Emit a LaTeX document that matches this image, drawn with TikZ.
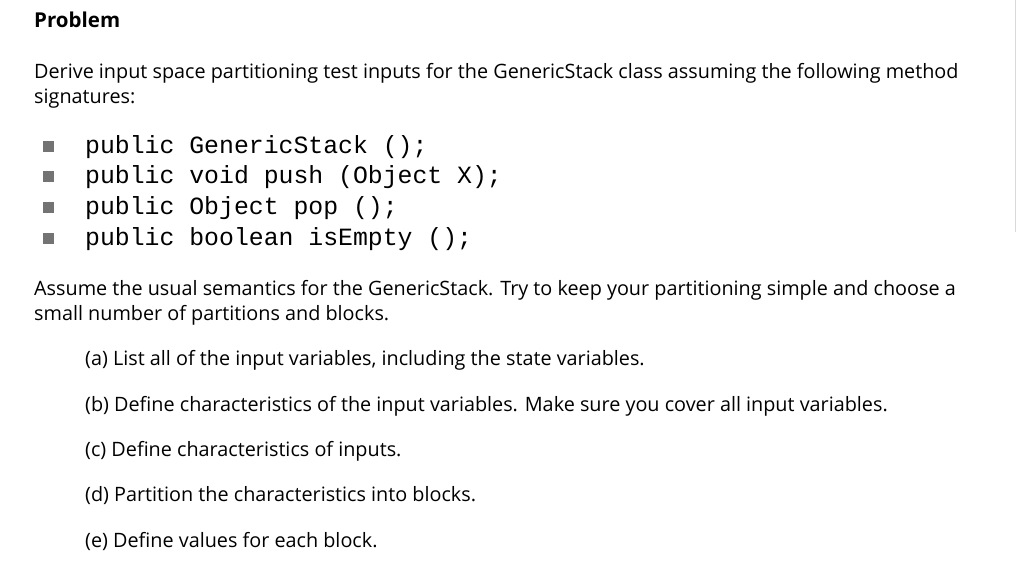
\documentclass[tikz,border=0pt]{standalone}
\usepackage{fontspec}
\setmainfont{Open Sans}
\newfontfamily\codefont{Liberation Mono}
\begin{document}
\begin{tikzpicture}[x=1pt,y=-1pt,
  txt/.style={anchor=base west,inner sep=0pt,font=\fontsize{19.8}{23}\selectfont},
  code/.style={anchor=base west,inner sep=0pt,font=\codefont\fontsize{24.8}{28}\selectfont},
  bul/.style={fill=gray!90!black,minimum size=11pt,inner sep=0pt}]
\useasboundingbox (0,0) rectangle (1024,571);
\fill[white] (0,0) rectangle (1024,571);
\draw[gray!30] (1015,0) -- (1015,232);
\node[txt,font=\bfseries\fontsize{20.5}{24}\selectfont] (title) at (34,27) {Problem};
\node[txt] (d1) at (34,78) {Derive input space partitioning test inputs for the GenericStack class assuming the following method};
\node[txt] (d2) at (34,103) {signatures:};
\foreach \y/\t [count=\i] in {153/{public GenericStack ();},183/{public void push (Object X);},214/{public Object pop ();},245/{public boolean isEmpty ();}}{
  \node[bul] (b\i) at (48,\y-7) {};
  \node[code] (c\i) at (85,\y) {\t};
}
\node[txt] (a1) at (34,295) {Assume the usual semantics for the GenericStack. Try to keep your partitioning simple and choose a};
\node[txt] (a2) at (34,320) {small number of partitions and blocks.};
\node[txt] (qa) at (85,365) {(a) List all of the input variables, including the state variables.};
\node[txt] (qb) at (85,411) {(b) Define characteristics of the input variables. Make sure you cover all input variables.};
\node[txt] (qc) at (85,456) {(c) Define characteristics of inputs.};
\node[txt] (qd) at (85,501) {(d) Partition the characteristics into blocks.};
\node[txt] (qe) at (85,547) {(e) Define values for each block.};
\end{tikzpicture}
\end{document}
